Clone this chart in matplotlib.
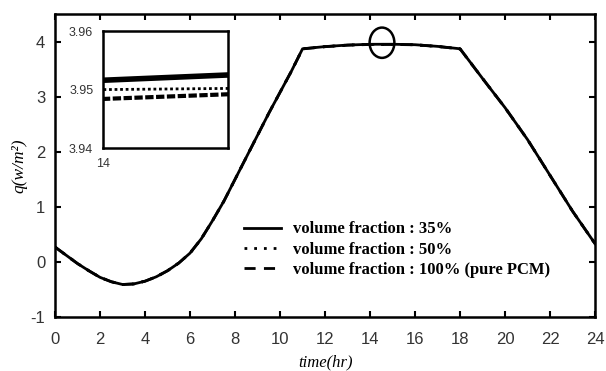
import matplotlib
matplotlib.use("Agg")
import matplotlib.pyplot as plt
from matplotlib.patches import Ellipse

plt.rcParams["axes.unicode_minus"] = False

time_hr = [0, 0.5, 1, 1.5, 2, 2.5, 3, 3.5, 4, 4.5, 5, 5.5, 6, 6.5, 7, 7.5, 8, 8.5, 9, 9.5, 10, 10.5,
           11, 12, 13, 14, 15, 16, 17, 18, 19, 20, 21, 22, 23, 24]
q_35 = [0.27, 0.12, -0.03, -0.16, -0.28, -0.36, -0.41, -0.40, -0.35, -0.27, -0.16, -0.02,
        0.16, 0.42, 0.75, 1.10, 1.50, 1.90, 2.30, 2.70, 3.08, 3.46,
        3.870, 3.910, 3.938, 3.9516, 3.9525, 3.944, 3.914, 3.870, 3.33, 2.80, 2.22, 1.57, 0.92, 0.33]
q_50 = [0.27, 0.12, -0.03, -0.16, -0.28, -0.36, -0.41, -0.40, -0.35, -0.27, -0.16, -0.02,
        0.16, 0.42, 0.75, 1.10, 1.50, 1.90, 2.30, 2.70, 3.08, 3.46,
        3.869, 3.909, 3.937, 3.9500, 3.9502, 3.943, 3.913, 3.869, 3.33, 2.80, 2.22, 1.57, 0.92, 0.33]
q_100 = [0.27, 0.12, -0.03, -0.16, -0.28, -0.36, -0.41, -0.40, -0.35, -0.27, -0.16, -0.02,
         0.16, 0.42, 0.75, 1.10, 1.50, 1.90, 2.30, 2.70, 3.08, 3.46,
         3.868, 3.908, 3.936, 3.9484, 3.9492, 3.942, 3.912, 3.868, 3.33, 2.80, 2.22, 1.57, 0.92, 0.33]
labels = ["volume fraction : 35%", "volume fraction : 50%",
          "volume fraction : 100% (pure PCM)"]

x_ticks = list(range(0, 25, 2))
y_ticks = [-1, 0, 1, 2, 3, 4]
inset_yticks = [3.94, 3.95, 3.96]
inset_xticks = [14]

fig = plt.figure(figsize=(6.06, 3.71), dpi=100)
ax = fig.add_axes([0.0908, 0.1456, 0.8912, 0.8164])

ax.plot(time_hr, q_35, color="black", lw=2.0, ls="-", label=labels[0])
ax.plot(time_hr, q_50, color="black", lw=2.0, ls=(0, (1, 2.5)), label=labels[1])
ax.plot(time_hr, q_100, color="black", lw=2.0, ls=(0, (4, 3)), label=labels[2])

ax.set_xlim(0, 24)
ax.set_ylim(-1, 4.5)
ax.set_xticks(x_ticks)
ax.set_yticks(y_ticks)
ax.tick_params(direction="in", length=4, width=1.5, top=True, right=True,
               labelsize=12, labelcolor="#333333", pad=7,
               labelfontfamily="Liberation Sans")
ax.tick_params(axis="x", pad=11)
for s in ax.spines.values():
    s.set_linewidth(1.8)

ax.set_xlabel("time(hr)", family="Liberation Serif", style="italic", fontsize=12)
ax.set_ylabel("q(w/m²)", family="Liberation Serif", style="italic", fontsize=12.5)
ax.xaxis.set_label_coords(0.5, -0.125)
ax.yaxis.set_label_coords(-0.052, 0.5)

ell = Ellipse((14.53, 3.98), width=1.1, height=0.55, fill=False, lw=1.8, ec="black")
ax.add_patch(ell)

leg = ax.legend(loc="upper left", bbox_to_anchor=(0.322, 0.365), frameon=False,
                prop={"family": "Liberation Serif", "weight": "bold", "size": 12},
                handlelength=2.2, handletextpad=0.75, labelspacing=0.25)

# inset
ins = fig.add_axes([0.170, 0.601, 0.206, 0.315])
ins.plot(time_hr, q_35, color="black", lw=4.0, ls="-")
ins.plot(time_hr, q_50, color="black", lw=2.0, ls=(0, (1, 1)))
ins.plot(time_hr, q_100, color="black", lw=3.0, ls=(0, (2, 0.6)))
ins.set_xlim(14, 15)
ins.set_ylim(3.94, 3.96)
ins.set_yticks(inset_yticks)
ins.set_yticklabels([f"{v:.2f}" for v in inset_yticks])
ins.set_xticks(inset_xticks)
ins.tick_params(direction="in", length=0, labelsize=9, labelcolor="#333333",
                pad=7, labelfontfamily="Liberation Sans")
ins.tick_params(axis="x", pad=7)
for s in ins.spines.values():
    s.set_linewidth(1.8)

fig.savefig("out.png", dpi=100)
